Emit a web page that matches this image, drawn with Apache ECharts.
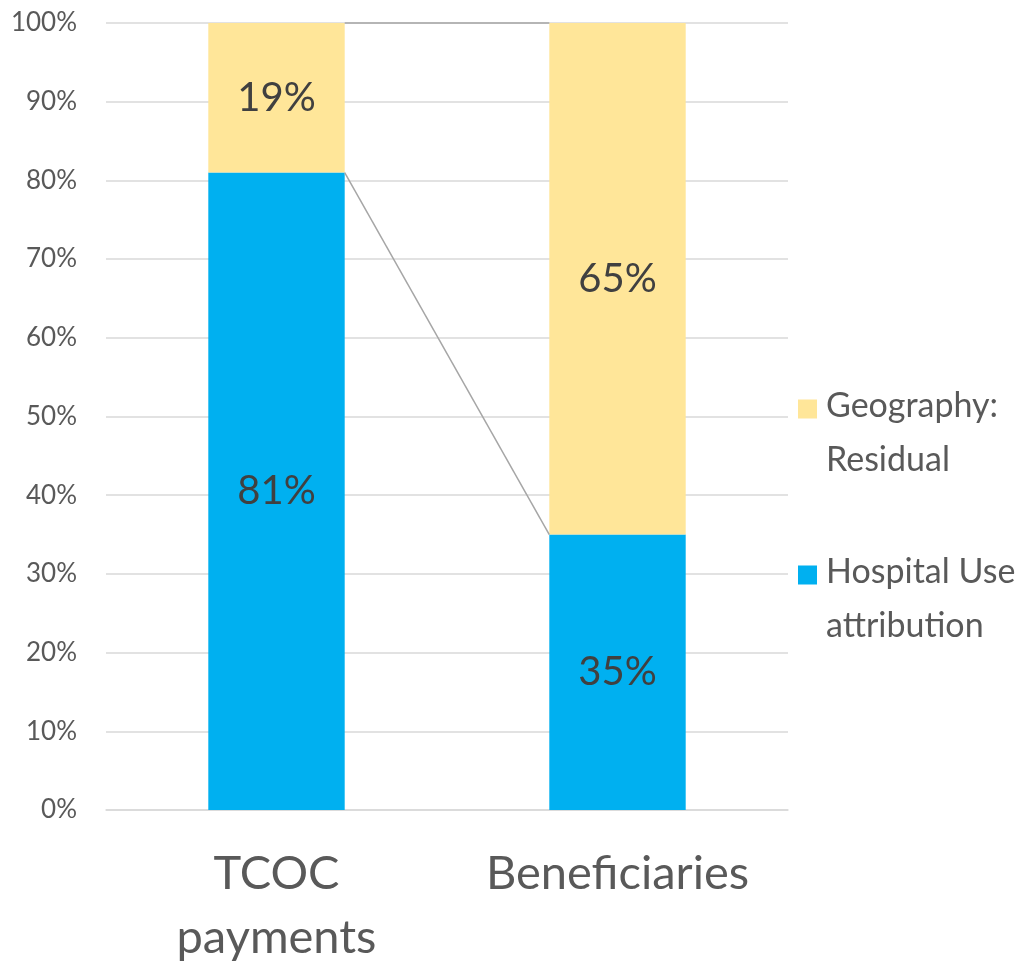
<!DOCTYPE html>
<html><head><meta charset="utf-8">
<script src="https://cdn.jsdelivr.net/npm/echarts@6/dist/echarts.min.js"></script>
<style>html,body{margin:0;padding:0;background:#fff;overflow:hidden}#c{width:1023px;height:966px}</style>
</head><body><div id="c"></div>
<script>
const categories = ['TCOC\npayments', 'Beneficiaries'];
const hospitalUse = [81, 35];
const geography = [19, 65];
const seriesNames = ['Hospital Use\nattribution', 'Geography:\nResidual'];
const yTicks = [0, 100, 10];

// series-line data: [categoryIndex, levelAtThisCategory, levelAtNextCategory]
const connectors = [];
for (let i = 0; i < categories.length - 1; i++) {
  connectors.push([i, hospitalUse[i], hospitalUse[i + 1]]);
  connectors.push([i, hospitalUse[i] + geography[i], hospitalUse[i + 1] + geography[i + 1]]);
}
const BAR_FRAC = 0.4;
const font = 'Lato, "Open Sans", sans-serif';
const chart = echarts.init(document.getElementById('c'), null, {renderer: 'canvas'});
// square marker sitting at the top of a taller (invisible) box so it aligns with the first text line
const ICON = 'path://M0 0 H19 V19 H0 Z M23 67 L23 67 Z';
const legendText = {fontFamily: font, fontSize: 34, color: '#595959', lineHeight: 54};
const legendBase = {orient: 'vertical', left: 798, padding: 0, itemWidth: 23, itemHeight: 67, itemGap: 0, icon: ICON, textStyle: legendText, selectedMode: false};
chart.setOption({
  animation: false,
  grid: {left: 106, width: 682, top: 23, height: 787, outerBoundsMode: 'none', containLabel: false},
  legend: [
    Object.assign({data: [seriesNames[1]], top: 379}, legendBase),
    Object.assign({data: [seriesNames[0]], top: 545}, legendBase)
  ],
  xAxis: {
    type: 'category', data: categories,
    axisLine: {lineStyle: {color: '#D9D9D9', width: 1.5}},
    axisTick: {show: false},
    axisLabel: {interval: 0, fontFamily: font, fontSize: 47, color: '#595959', lineHeight: 64, margin: 32}
  },
  yAxis: {
    type: 'value', min: yTicks[0], max: yTicks[1], interval: yTicks[2],
    axisLabel: {formatter: '{value}%', fontFamily: font, fontSize: 26, color: '#595959', margin: 29},
    splitLine: {lineStyle: {color: '#D9D9D9', width: 1.5}},
    axisLine: {show: false}, axisTick: {show: false}
  },
  series: [
    {name: seriesNames[0], type: 'bar', stack: 's', data: hospitalUse, barWidth: (BAR_FRAC * 100) + '%',
     itemStyle: {color: '#00B0F0'},
     label: {show: true, position: 'inside', formatter: '{c}%', fontFamily: font, fontSize: 40, color: '#404040'}},
    {name: seriesNames[1], type: 'bar', stack: 's', data: geography, barWidth: (BAR_FRAC * 100) + '%',
     itemStyle: {color: '#FFE699'},
     label: {show: true, position: 'inside', formatter: '{c}%', fontFamily: font, fontSize: 40, color: '#404040'}},
    {type: 'custom', data: connectors, encode: {x: 0, y: 1}, z: 5, silent: true,
     renderItem: function (params, api) {
       const i = api.value(0);
       const p0 = api.coord([i, api.value(1)]);
       const p1 = api.coord([i + 1, api.value(2)]);
       const hw = api.size([1, 0])[0] * BAR_FRAC / 2;
       return {type: 'line', shape: {x1: p0[0] + hw, y1: p0[1], x2: p1[0] - hw, y2: p1[1]},
               style: {stroke: '#A6A6A6', lineWidth: 1.5}};
     }}
  ]
});
</script></body></html>
